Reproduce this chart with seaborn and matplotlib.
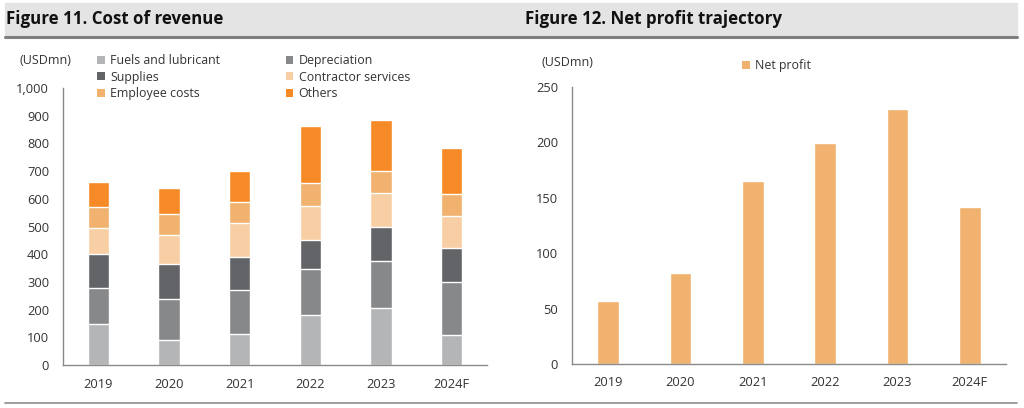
import pandas as pd
import numpy as np
import matplotlib
matplotlib.use("Agg")
import matplotlib.pyplot as plt
import seaborn as sns
from matplotlib.patches import Patch, Rectangle
from matplotlib.lines import Line2D

years = ["2019", "2020", "2021", "2022", "2023", "2024F"]

# cost of revenue components (USDmn), bottom to top
fuels = [148, 89, 113, 181, 204, 109]
depreciation = [131, 149, 157, 164, 173, 189]
supplies = [120, 127, 121, 106, 122, 125]
contractor = [94, 106, 122, 122, 121, 115]
employee = [78, 75, 77, 83, 82, 80]
others = [91, 92, 112, 208, 181, 167]

net_profit = [56.5, 82, 165, 199.5, 230, 142]

series_names = ["Fuels and lubricant", "Depreciation", "Supplies",
                "Contractor services", "Employee costs", "Others"]
series_colors = ["#b4b5b6", "#86888a", "#626467", "#f8cfa5", "#f0b26e", "#f58a26"]

sns.set_style("white")
plt.rcParams["font.family"] = ["Open Sans", "DejaVu Sans"]

W, H = 1024, 408
fig = plt.figure(figsize=(W / 100, H / 100), dpi=100)


def fbox(x0, y0, x1, y1):
    # pixel box (top-left origin) -> figure fraction rect
    return [x0 / W, 1 - y1 / H, (x1 - x0) / W, (y1 - y0) / H]


# header bands and rules
fig.patches.append(Rectangle((5 / W, 1 - 35 / H), 1012 / W, 32 / H,
                             transform=fig.transFigure, color="#e4e4e4", zorder=0))
fig.lines.append(Line2D([5 / W, 1017 / W], [1 - 37 / H, 1 - 37 / H],
                        transform=fig.transFigure, color="#7f7f7f", lw=2.2))
fig.lines.append(Line2D([5 / W, 1017 / W], [1 - 402.5 / H, 1 - 402.5 / H],
                        transform=fig.transFigure, color="#8c8c8c", lw=1.2))
fig.text(6 / W, 1 - 19 / H, "Figure 11. Cost of revenue", fontsize=12.2,
         fontweight="bold", va="center", ha="left", color="#111111")
fig.text(525 / W, 1 - 19 / H, "Figure 12. Net profit trajectory", fontsize=12.2,
         fontweight="bold", va="center", ha="left", color="#111111")

tick_color = "#333333"
spine_color = "#8a8a8a"


def style_axes(ax, n):
    for s in ["top", "right"]:
        ax.spines[s].set_visible(False)
    for s in ["left", "bottom"]:
        ax.spines[s].set_color(spine_color)
        ax.spines[s].set_linewidth(1.0)
    ax.set_xlim(-0.5, n - 0.5)
    ax.set_xticks(np.arange(n))
    ax.set_xticks(np.arange(n) + 0.5, minor=True)
    ax.tick_params(axis="x", which="major", length=0, pad=9,
                   labelsize=9.3, labelcolor=tick_color)
    ax.tick_params(axis="x", which="minor", length=4, direction="in",
                   color=spine_color, width=1)
    ax.tick_params(axis="y", which="major", length=4, direction="in",
                   color=spine_color, width=1, pad=10,
                   labelsize=9.3, labelcolor=tick_color)
    ax.set_xlabel("")
    ax.set_ylabel("")


# ---- left: stacked bars
ax1 = fig.add_axes(fbox(63, 88, 487, 365))
stack = np.array([fuels, depreciation, supplies, contractor, employee, others])
cum = stack.cumsum(axis=0)
for i in range(len(series_names) - 1, -1, -1):
    df = pd.DataFrame({"year": years, "value": cum[i]})
    sns.barplot(data=df, x="year", y="value", order=years, color=series_colors[i],
                width=0.3, edgecolor="white", linewidth=1.0, saturation=1, ax=ax1)
ax1.set_ylim(0, 1000)
ax1.set_yticks(range(0, 1001, 100))
ax1.set_yticklabels([f"{v:,}" for v in range(0, 1001, 100)])
style_axes(ax1, len(years))

fig.text(20 / W, 1 - 61 / H, "(USDmn)", fontsize=9, color=tick_color,
         va="center", ha="left")

handles = [Patch(facecolor=c, edgecolor="none") for c in series_colors]
order = [0, 2, 4, 1, 3, 5]
fig.legend([handles[i] for i in order], [series_names[i] for i in order],
           loc="upper left", bbox_to_anchor=(91 / W, 1 - 48 / H), ncol=2,
           frameon=False, fontsize=8.9, handlelength=0.6, handleheight=0.6,
           handletextpad=0.45, columnspacing=5.3, labelspacing=0.28,
           borderpad=0, labelcolor=tick_color)

# ---- right: net profit
ax2 = fig.add_axes(fbox(572, 87, 1006, 364))
df2 = pd.DataFrame({"year": years, "Net profit": net_profit})
sns.barplot(data=df2, x="year", y="Net profit", order=years, color="#f0b26e",
            width=0.3, saturation=1, ax=ax2)
ax2.set_ylim(0, 250)
ax2.set_yticks(range(0, 251, 50))
style_axes(ax2, len(years))

fig.text(541 / W, 1 - 62 / H, "(USDmn)", fontsize=9, color=tick_color,
         va="center", ha="left")
fig.legend([Patch(facecolor="#f0b26e", edgecolor="none")], ["Net profit"],
           loc="upper left", bbox_to_anchor=(736 / W, 1 - 53 / H),
           frameon=False, fontsize=8.9, handlelength=0.6, handleheight=0.6,
           handletextpad=0.45, borderpad=0, labelcolor=tick_color)

fig.savefig("out.png", dpi=100)
